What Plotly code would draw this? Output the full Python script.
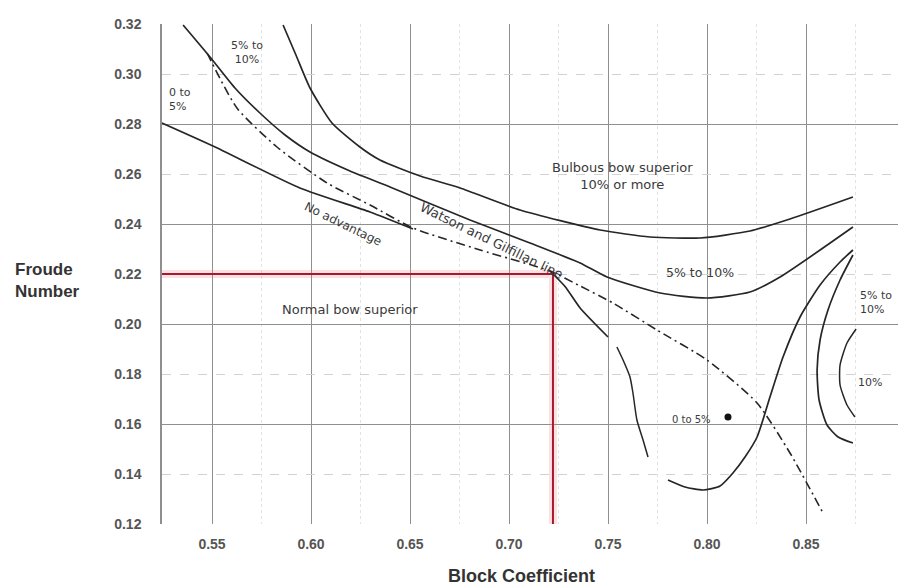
import plotly.graph_objects as go

# ---- axis data ----
X_RANGE = [0.52475, 0.89646]
Y_RANGE = [0.12, 0.32]
X_TICKS = [0.55, 0.60, 0.65, 0.70, 0.75, 0.80, 0.85]
X_TICK_TEXT = ["0.55", "0.60", "0.65", "0.70", "0.75", "0.80", "0.85"]
Y_TICKS = [0.12, 0.14, 0.16, 0.18, 0.20, 0.22, 0.24, 0.26, 0.28, 0.30, 0.32]
Y_TICK_TEXT = ["0.12", "0.14", "0.16", "0.18", "0.20", "0.22", "0.24", "0.26", "0.28", "0.30", "0.32"]
Y_MAJOR_GRID = [0.16, 0.20, 0.24, 0.28, 0.32]

# ---- boundary curves (Block coefficient, Froude number) ----
c1_x = [0.5859, 0.5924, 0.5995, 0.6106, 0.6247, 0.6348, 0.6551, 0.6753, 0.7056, 0.7460, 0.7712, 0.7965, 0.8217, 0.8419, 0.8737]
c1_y = [0.3196, 0.3076, 0.2944, 0.2804, 0.2708, 0.2656, 0.2592, 0.2544, 0.2456, 0.2376, 0.2348, 0.2344, 0.2372, 0.2420, 0.2508]

c2_x = [0.5354, 0.5490, 0.5616, 0.5742, 0.5869, 0.5995, 0.6197, 0.6399, 0.6803, 0.7106, 0.7359, 0.7495, 0.7763, 0.8000, 0.8217, 0.8369, 0.8737]
c2_y = [0.3196, 0.3068, 0.2944, 0.2844, 0.2756, 0.2688, 0.2612, 0.2548, 0.2416, 0.2324, 0.2244, 0.2188, 0.2124, 0.2104, 0.2128, 0.2188, 0.2388]

wg_x = [0.5475, 0.5626, 0.5828, 0.6081, 0.6298, 0.6515, 0.6854, 0.7207, 0.7359, 0.7525, 0.7747, 0.8000, 0.8253, 0.8419, 0.8586]
wg_y = [0.3084, 0.2864, 0.2708, 0.2564, 0.2476, 0.2384, 0.2296, 0.2212, 0.2152, 0.2084, 0.1976, 0.1856, 0.1684, 0.1484, 0.1244]

noadv_x = [0.5247, 0.5505, 0.5944, 0.6298, 0.6515]
noadv_y = [0.2804, 0.2712, 0.2544, 0.2448, 0.2380]

noadv2_x = [0.7207, 0.7283, 0.7359, 0.7500]
noadv2_y = [0.2212, 0.2150, 0.2064, 0.1948]

wiggle_x = [0.7545, 0.7576, 0.7611, 0.7626, 0.7646, 0.7677, 0.7702]
wiggle_y = [0.1908, 0.1856, 0.1788, 0.1724, 0.1616, 0.1536, 0.1468]

u_x = [0.7803, 0.7889, 0.7980, 0.8066, 0.8131, 0.8192, 0.8253, 0.8318, 0.8384, 0.8470, 0.8571, 0.8672, 0.8737]
u_y = [0.1376, 0.1348, 0.1336, 0.1352, 0.1404, 0.1468, 0.1548, 0.1708, 0.1868, 0.2028, 0.2156, 0.2248, 0.2296]

arc_x = [0.8737, 0.8662, 0.8606, 0.8566, 0.8556, 0.8571, 0.8611, 0.8672, 0.8737]
arc_y = [0.1524, 0.1548, 0.1596, 0.1696, 0.1816, 0.1936, 0.2056, 0.2176, 0.2276]

small_arc_x = [0.8753, 0.8707, 0.8672, 0.8672, 0.8707, 0.8747]
small_arc_y = [0.1980, 0.1924, 0.1836, 0.1756, 0.1676, 0.1628]

blob_x = [0.8106]
blob_y = [0.1628]

# ---- worked example (red) ----
EX_CB = 0.7222
EX_FN = 0.22

# ---- region labels ----
lbl_text = ["0 to<br>5%", "5% to<br>10%", "Bulbous bow superior<br>10% or more", "5% to 10%",
            "5% to<br>10%", "10%", "0 to 5%", "Normal bow superior"]
lbl_x = [0.5273, 0.5677, 0.7571, 0.7965, 0.8763, 0.8823, 0.7924, 0.6197]
lbl_y = [0.2900, 0.3088, 0.2592, 0.2208, 0.2088, 0.1768, 0.1620, 0.2060]
lbl_anchor = ["left", "center", "center", "center", "left", "center", "center", "center"]
lbl_size = [11, 11, 13, 12.5, 11, 11, 10, 13]

rot_text = ["No advantage", "Watson and Gilfillan line"]
rot_x = [0.6162, 0.6910]
rot_y = [0.2400, 0.2334]
rot_angle = [26, 26]
rot_size = [12, 13]

INK = "#262626"
FONT = "Liberation Sans"
LFONT = "DejaVu Sans"

fig = go.Figure()

def line(x, y, dash="solid", width=1.7):
    fig.add_trace(go.Scatter(x=x, y=y, mode="lines", line=dict(color=INK, width=width, dash=dash, shape="spline", smoothing=0.6),
                             hoverinfo="skip", showlegend=False))

# red example lines with pale halo
fig.add_trace(go.Scatter(x=[X_RANGE[0], EX_CB, EX_CB], y=[EX_FN, EX_FN, Y_RANGE[0]], mode="lines",
                         line=dict(color="rgba(240,120,130,0.22)", width=8), hoverinfo="skip", showlegend=False))
fig.add_trace(go.Scatter(x=[X_RANGE[0], EX_CB, EX_CB], y=[EX_FN, EX_FN, Y_RANGE[0]], mode="lines",
                         line=dict(color="#a8192e", width=2), hoverinfo="skip", showlegend=False))

line(c1_x, c1_y)
line(c2_x, c2_y)
line(wg_x, wg_y, dash="9px,4px,2px,4px", width=1.6)
line(noadv_x, noadv_y)
line(noadv2_x, noadv2_y)
line(wiggle_x, wiggle_y, width=1.5)
line(u_x, u_y)
line(arc_x, arc_y)
line(small_arc_x, small_arc_y, width=1.5)
fig.add_trace(go.Scatter(x=blob_x, y=blob_y, mode="markers", marker=dict(symbol="circle", size=7, color="#111"),
                         hoverinfo="skip", showlegend=False))
# invisible trace on overlay axis for major y grid
fig.add_trace(go.Scatter(x=[X_RANGE[0]], y=[Y_RANGE[0]], yaxis="y2", mode="markers", marker=dict(opacity=0),
                         hoverinfo="skip", showlegend=False))

for t, x, y, a, s in zip(lbl_text, lbl_x, lbl_y, lbl_anchor, lbl_size):
    fig.add_annotation(x=x, y=y, text=t, showarrow=False, xanchor=a, yanchor="middle", align=a,
                       font=dict(family=LFONT, size=s, color="#3a3a3a"))
for t, x, y, ang, s in zip(rot_text, rot_x, rot_y, rot_angle, rot_size):
    fig.add_annotation(x=x, y=y, text=t, showarrow=False, textangle=ang,
                       font=dict(family=LFONT, size=s, color="#3a3a3a"))

fig.add_annotation(xref="paper", yref="paper", x=-0.2024, y=0.488, text="Froude<br>Number", showarrow=False,
                   xanchor="left", yanchor="middle", align="left",
                   font=dict(family=FONT, size=17, color="#333", weight="bold"))
fig.add_annotation(xref="paper", yref="paper", x=0.4878, y=-0.104, text="Block Coefficient", showarrow=False,
                   xanchor="center", yanchor="middle",
                   font=dict(family=FONT, size=18, color="#333", weight="bold"))

fig.update_layout(
    width=898, height=587,
    margin=dict(l=162, r=0, t=24, b=63),
    paper_bgcolor="white", plot_bgcolor="white",
    showlegend=False,
    xaxis=dict(range=X_RANGE, tickvals=X_TICKS, ticktext=X_TICK_TEXT, showgrid=True, gridcolor="#8f8f8f", gridwidth=1.2,
               zeroline=False, showline=False, ticks="", ticklabelstandoff=10, automargin=False,
               tickfont=dict(family=FONT, size=14, color="#555", weight="bold"),
               minor=dict(dtick=0.025, tick0=0.525, showgrid=True, gridcolor="#e2e2e2", griddash="dot", gridwidth=1)),
    yaxis=dict(range=Y_RANGE, tickvals=Y_TICKS, ticktext=Y_TICK_TEXT, showgrid=True, gridcolor="#d2d2d2",
               griddash="dash", gridwidth=1, zeroline=False, showline=True, linecolor="#8f8f8f", linewidth=1.5,
               ticks="", ticklabelstandoff=16, automargin=False,
               tickfont=dict(family=FONT, size=14, color="#555", weight="bold")),
    yaxis2=dict(range=Y_RANGE, overlaying="y", side="left", tickvals=Y_MAJOR_GRID, showticklabels=False,
                showgrid=True, gridcolor="#8f8f8f", gridwidth=1.2, zeroline=False, showline=False, ticks="",
                automargin=False),
)

fig.write_html("out.html", config={"displayModeBar": False},
               post_script="document.body.style.margin='0';document.body.style.padding='0';")
